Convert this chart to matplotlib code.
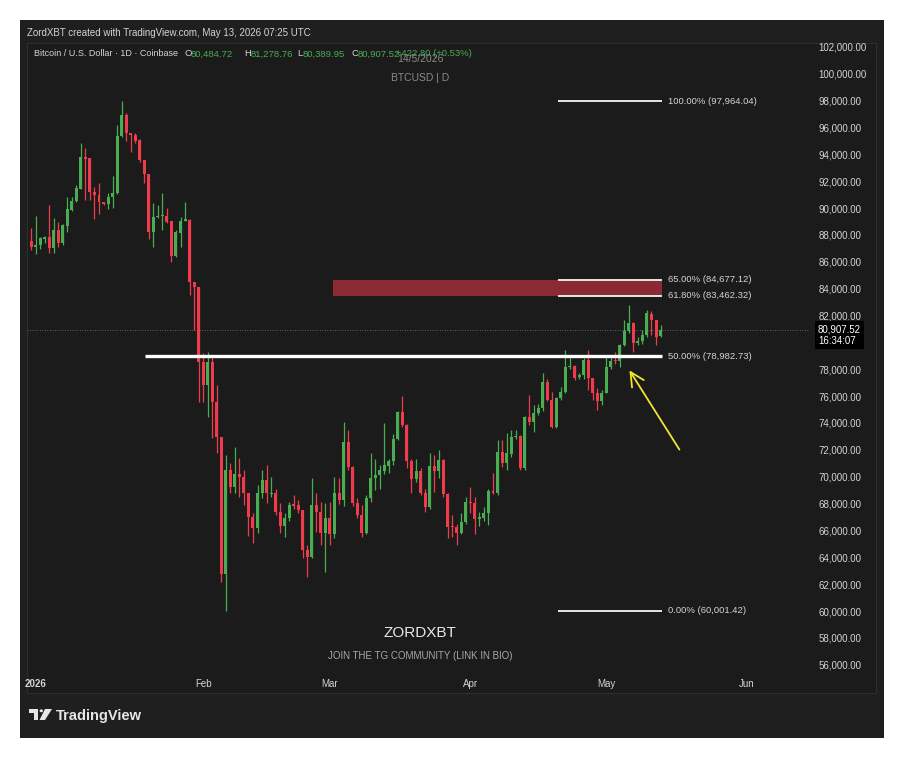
import numpy as np
import pandas as pd
import matplotlib
matplotlib.use("Agg")
import matplotlib.pyplot as plt
from matplotlib.patches import Rectangle, Circle, Polygon
from matplotlib.transforms import blended_transform_factory

plt.rcParams['font.family'] = ['Liberation Sans', 'DejaVu Sans']

# BTCUSD daily candles, Coinbase, in thousands of USD (first bar 2025-12-25)
opens = [87.54, 87.12, 87.22, 87.69, 87.82, 87.00, 88.36, 87.37, 88.66, 89.85,
         90.54, 91.41, 93.82, 93.70, 91.21, 90.94, 90.44, 90.27, 90.80, 91.09,
         95.36, 96.92, 95.56, 95.43, 95.06, 93.57, 92.51, 88.24, 89.31, 89.40,
         89.40, 89.03, 86.45, 88.16, 89.05, 89.11, 84.47, 84.10, 78.56, 76.82,
         78.56, 75.58, 72.93, 62.75, 70.50, 69.21, 70.20, 70.00, 68.76, 66.97,
         66.15, 68.76, 69.75, 68.70, 68.76, 67.39, 66.33, 66.90, 67.95, 67.89,
         67.52, 64.54, 64.00, 67.89, 67.39, 65.78, 66.90, 65.75, 68.76, 68.26,
         72.60, 70.74, 68.02, 67.15, 65.83, 68.39, 69.88, 70.12, 70.45, 70.80,
         71.19, 72.78, 74.84, 73.85, 71.19, 69.80, 70.45, 68.81, 67.72, 70.79,
         70.45, 71.24, 68.71, 66.33, 66.28, 65.83, 66.65, 68.14, 68.02, 66.82,
         66.90, 67.27, 68.96, 68.80, 71.86, 70.99, 71.70, 72.95, 73.05, 70.62,
         74.47, 74.09, 74.76, 75.09, 77.07, 75.71, 73.72, 75.83, 76.30, 78.15,
         78.25, 77.40, 77.55, 78.68, 77.32, 76.25, 75.66, 76.25, 78.15, 78.68,
         78.60, 79.80, 80.85, 81.41, 79.93, 80.10, 80.55, 82.10, 81.66, 80.48472]
highs = [88.49, 89.40, 87.86, 87.94, 90.22, 89.28, 88.98, 88.80, 90.84, 90.80,
         91.71, 94.81, 94.44, 93.75, 91.59, 91.88, 90.47, 91.09, 92.38, 96.18,
         97.96, 97.09, 95.61, 95.56, 95.11, 93.60, 92.55, 90.39, 90.22, 91.09,
         89.98, 89.05, 88.36, 89.35, 90.47, 89.15, 84.50, 84.15, 79.18, 79.30,
         78.93, 76.82, 72.95, 71.61, 70.99, 72.19, 71.37, 70.50, 68.80, 67.27,
         69.38, 70.50, 70.87, 70.00, 69.10, 68.02, 67.27, 68.14, 68.63, 68.30,
         67.55, 64.91, 69.92, 68.80, 68.14, 68.02, 68.14, 70.00, 69.90, 74.04,
         73.47, 70.80, 68.39, 67.89, 68.63, 71.74, 71.29, 70.87, 73.97, 71.30,
         73.18, 74.90, 76.00, 73.90, 71.30, 71.30, 70.62, 69.10, 71.74, 71.60,
         71.99, 71.30, 68.75, 67.15, 66.50, 67.27, 68.50, 69.25, 68.50, 67.40,
         67.77, 69.05, 70.30, 72.73, 72.73, 73.23, 73.47, 73.50, 73.10, 74.50,
         76.08, 75.33, 75.40, 77.69, 77.30, 76.33, 75.90, 76.70, 79.43, 78.90,
         78.30, 77.70, 78.80, 79.43, 77.35, 76.60, 76.45, 78.90, 79.00, 79.30,
         79.85, 81.66, 82.78, 81.50, 80.40, 80.92, 82.41, 82.30, 81.70, 81.27876]
lows = [86.87, 86.58, 86.92, 87.37, 86.63, 86.67, 87.12, 87.25, 88.24, 89.80,
        90.47, 91.41, 90.59, 90.59, 89.16, 89.55, 90.22, 89.90, 89.98, 91.04,
        95.31, 95.01, 94.19, 94.86, 93.45, 91.88, 87.69, 87.12, 89.23, 88.36,
        88.91, 85.96, 86.37, 87.12, 89.00, 83.50, 80.92, 75.58, 75.58, 74.47,
        72.85, 71.74, 62.13, 60.00, 68.76, 68.80, 68.51, 67.89, 65.58, 65.04,
        65.78, 68.39, 68.02, 68.51, 67.15, 65.78, 65.53, 66.70, 67.60, 67.27,
        63.92, 62.56, 63.95, 65.90, 64.91, 62.93, 64.91, 65.40, 68.00, 67.80,
        70.50, 67.80, 66.90, 65.53, 65.70, 68.10, 69.00, 69.06, 70.20, 70.25,
        70.90, 72.70, 73.70, 70.62, 68.76, 69.60, 68.60, 67.39, 67.60, 68.88,
        69.90, 68.50, 65.41, 65.53, 64.91, 65.70, 66.50, 67.27, 65.70, 66.30,
        66.70, 66.40, 68.70, 68.60, 70.70, 70.50, 71.50, 72.80, 70.50, 70.50,
        73.85, 73.35, 74.60, 74.90, 75.60, 73.60, 73.60, 75.70, 76.20, 78.00,
        77.20, 77.30, 77.25, 76.45, 75.71, 74.96, 75.30, 76.20, 78.00, 78.40,
        78.20, 79.70, 80.70, 79.30, 79.80, 79.90, 80.40, 80.55, 79.80, 80.38995]
closes = [87.07, 87.25, 87.74, 87.86, 87.00, 88.36, 87.42, 88.71, 89.90, 90.54,
          91.46, 93.82, 93.65, 91.21, 90.94, 90.42, 90.27, 90.84, 91.14, 95.36,
          96.92, 95.56, 95.43, 95.01, 93.57, 92.51, 88.24, 89.35, 89.42, 89.48,
          88.98, 86.45, 88.24, 89.03, 89.16, 84.47, 84.10, 78.56, 76.82, 78.56,
          75.58, 72.93, 62.75, 70.50, 69.21, 70.20, 70.00, 68.76, 66.97, 66.15,
          68.76, 69.75, 68.76, 68.80, 67.39, 66.33, 66.90, 67.89, 67.85, 67.52,
          64.54, 64.00, 67.89, 67.39, 65.78, 66.90, 65.75, 68.76, 68.26, 72.60,
          70.74, 68.02, 67.15, 65.83, 68.39, 69.88, 70.12, 70.50, 70.87, 71.19,
          72.78, 74.84, 73.85, 71.19, 69.80, 70.45, 68.81, 67.72, 70.79, 70.45,
          71.24, 68.71, 66.28, 66.22, 65.83, 66.65, 68.14, 68.02, 66.82, 67.02,
          67.27, 68.96, 68.80, 71.86, 70.99, 71.74, 72.98, 73.05, 70.62, 74.47,
          74.09, 74.76, 75.09, 77.07, 75.71, 73.72, 75.83, 76.33, 78.19, 78.25,
          77.32, 77.55, 78.68, 77.32, 76.25, 75.66, 76.25, 78.19, 78.61, 78.60,
          79.80, 80.87, 81.41, 79.93, 80.12, 80.55, 82.16, 81.66, 80.42, 80.90752]
first_day = '2025-12-25'

fib_pcts = ['100.00%', '65.00%', '61.80%', '50.00%', '0.00%']
fib_prices = [97964.04, 84677.12, 83462.32, 78982.73, 60001.42]

tick_days = ['2025-12-26', '2026-02-01', '2026-03-01', '2026-04-01', '2026-05-01', '2026-06-01']
tick_names = ['2026', 'Feb', 'Mar', 'Apr', 'May', 'Jun']

GREEN = '#4aad52'
RED = '#ef3b4b'
TXT = '#d4d4d4'

W, H = 905, 758
def fx(px):
    return px / W
def fy(py):
    return 1 - py / H

fig = plt.figure(figsize=(W / 100, H / 100), dpi=100)
fig.patch.set_facecolor('white')
fig.patches.append(Rectangle((fx(20), fy(738)), fx(864), 718 / H, transform=fig.transFigure,
                             facecolor='#1f1f1f', edgecolor='none', zorder=-2))
fig.patches.append(Rectangle((fx(27), fy(693)), fx(849), 650 / H, transform=fig.transFigure,
                             facecolor='#1b1b1b', edgecolor='#2e2e2e', lw=0.8, zorder=-1))

ax = fig.add_axes([fx(27), fy(673), fx(783), 630 / H])
ax.set_facecolor('none')
for s in ax.spines.values():
    s.set_visible(False)

dates = pd.date_range(first_day, periods=len(opens), freq='D')
x = np.arange(len(dates))
o = np.array(opens) * 1000
h = np.array(highs) * 1000
l = np.array(lows) * 1000
c = np.array(closes) * 1000
col = np.where(c >= o, GREEN, RED)

# current price line
ax.axhline(c[-1], color='#7a7a7a', lw=0.6, ls=(0, (1, 2)), zorder=1)

# sell zone between 61.8 and 65 levels
zone_start = 66.7
end = 139.3
ax.add_patch(Rectangle((zone_start, fib_prices[2]), end - zone_start, fib_prices[1] - fib_prices[2],
                       facecolor='#8c2a33', edgecolor='none', zorder=2))

ax.vlines(x, l, h, colors=col, lw=0.9, zorder=3)
body_low = np.minimum(o, c)
body_h = np.maximum(np.abs(c - o), 70)
ax.bar(x, body_h, bottom=body_low, width=0.66, color=col, linewidth=0, zorder=3)

# fib retracement lines
short_start = 116.3
long_start = 25.2
for pct, p in zip(fib_pcts, fib_prices):
    if pct == '50.00%':
        ax.plot([long_start, end], [p, p], color='white', lw=2.4, zorder=4, solid_capstyle='butt')
    else:
        ax.plot([short_start, end], [p, p], color='#e6e6e6', lw=1.4, zorder=4, solid_capstyle='butt')
    ax.text(end + 1.4, p, f'{pct} ({p:,.2f})', color=TXT, fontsize=6.8, va='center', ha='left')

# yellow arrow
ax.annotate('', xy=(131.8, 78090), xytext=(143.5, 71840),
            arrowprops=dict(arrowstyle='->,head_length=1.0,head_width=0.5', color='#f2e431', lw=1.3),
            zorder=5)

ax.set_xlim(-0.9, 172)
ax.set_ylim(55386, 102283)

ax.set_xticks([(pd.Timestamp(d) - dates[0]).days for d in tick_days])
ax.set_xticklabels(tick_names)
ax.get_xticklabels()[0].set_fontweight('bold')
ax.tick_params(axis='x', length=0, colors=TXT, labelsize=7, pad=4)

# price scale; the 80,000 label sits under the last-price box
yt = np.arange(56000, 102001, 2000)
ax.yaxis.tick_right()
ax.set_yticks(yt)
ax.set_yticklabels(['' if v == 80000 else f'{v:,.2f}' for v in yt])
ax.tick_params(axis='y', length=0, colors=TXT, labelsize=7, pad=6)

# last price label on the price scale
tr = blended_transform_factory(ax.transAxes, ax.transData)
ax.annotate(f'{c[-1]:,.2f}\n16:34:07', xy=(1.0, c[-1]), xycoords=tr,
            xytext=(5.8, -3.6), textcoords='offset points', color='white', fontsize=7,
            va='center', ha='left', linespacing=1.15, annotation_clip=False,
            bbox=dict(facecolor='black', edgecolor='none', pad=2.4), zorder=6)

# header texts
fig.text(fx(27), fy(33), 'ZordXBT created with TradingView.com, May 13, 2026 07:25 UTC',
         color=TXT, fontsize=7, va='center')
legend = [('Bitcoin / U.S. Dollar · 1D · Coinbase', 34, TXT), ('O', 184, TXT), ('80,484.72', 191, GREEN),
          ('H', 244, TXT), ('81,278.76', 251, GREEN), ('L', 297, TXT), ('80,389.95', 303, GREEN),
          ('C', 351, TXT), ('80,907.52', 358, GREEN), ('+422.80 (+0.53%)', 396, GREEN)]
for s, px, cc in legend:
    fs = 6.5 if px == 34 else 6.8
    fig.text(fx(px), fy(54), s, color=cc, fontsize=fs, va='center')
fig.text(fx(420), fy(59), '14/5/2026', color='#8a8a8a', fontsize=7.5, ha='center', va='center')
fig.text(fx(420), fy(78), 'BTCUSD | D', color='#8a8a8a', fontsize=7.5, ha='center', va='center')

fig.text(fx(420), fy(633), 'ZORDXBT', color='#e8e8e8', fontsize=11, ha='center', va='center')
fig.text(fx(420), fy(656), 'JOIN THE TG COMMUNITY (LINK IN BIO)', color='#a8a8a8', fontsize=7,
         ha='center', va='center')

# TradingView logo
logo = '#e6e6e6'
def pix_poly(pts):
    return Polygon([(fx(a), fy(b)) for a, b in pts], closed=True, transform=fig.transFigure,
                   facecolor=logo, edgecolor='none', zorder=5)
fig.patches.append(pix_poly([(29, 709), (38, 709), (38, 713), (29, 713)]))
fig.patches.append(pix_poly([(33.5, 709), (38, 709), (38, 720), (33.5, 720)]))
fig.patches.append(Circle((fx(41.3), fy(710.8)), 1.7 / W, transform=fig.transFigure,
                          facecolor=logo, edgecolor='none', zorder=5))
fig.patches.append(pix_poly([(45, 709), (52, 709), (45, 720), (39.5, 720)]))
fig.text(fx(56), fy(716), 'TradingView', color=logo, fontsize=10.5, fontweight='bold', va='center')

fig.savefig('out.png', dpi=100, facecolor=fig.get_facecolor())
